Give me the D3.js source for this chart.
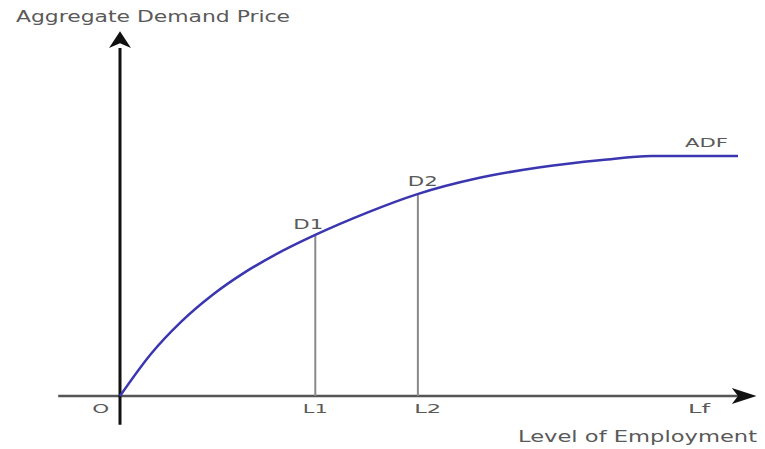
<!DOCTYPE html>
<html lang="en">
<head>
    <meta charset="UTF-8">
    <title>Aggregate Demand Function</title>
    <script src="https://d3js.org/d3.v7.min.js"></script>
    <style>
        body { margin: 0; background: #fff; }
        text { font-family: "DejaVu Sans", sans-serif; fill: #5a5a5a; }
    </style>
</head>
<body>
    <script>
        // curve (employment vs demand price, 0..100)
        const curveX = [0, 5, 10, 15, 20, 25, 31.5, 40, 48, 58, 68, 78, 86, 100];
        const curveY = [0, 17.5, 31.2, 42.2, 51.2, 58.7, 67, 76.4, 84, 90.8, 95.3, 98.3, 100, 100];

        // employment levels with their demand points
        const levelNames = ["L1", "L2"];
        const levelX = [31.6, 48.2];
        const pointNames = ["D1", "D2"];
        const pointY = [67.1, 84.1];

        // x axis tick labels
        const tickLabels = ["O", "L1", "L2", "Lf"];
        const tickX = [-3.1, 31.6, 49.8, 93.7];

        const width = 765, height = 449;

        const svg = d3.select("body").append("svg")
            .attr("width", width)
            .attr("height", height);

        const x = d3.scaleLinear().domain([0, 100]).range([120, 738]);
        const y = d3.scaleLinear().domain([0, 100]).range([396, 156]);

        // x axis with arrow
        svg.append("line")
            .attr("x1", x(-10)).attr("x2", x(101))
            .attr("y1", y(0)).attr("y2", y(0))
            .attr("stroke", "#555").attr("stroke-width", 2.5);
        svg.append("path")
            .attr("d", `M${x(103)},${y(0)} L${x(99)},${y(0) - 8} L${x(100)},${y(0)} L${x(99)},${y(0) + 8} Z`)
            .attr("fill", "#111");

        // y axis with arrow
        svg.append("line")
            .attr("x1", x(0)).attr("x2", x(0))
            .attr("y1", y(-12)).attr("y2", y(145))
            .attr("stroke", "#111").attr("stroke-width", 3);
        svg.append("path")
            .attr("d", `M${x(0)},${y(152)} L${x(0) - 11},${y(145)} L${x(0)},${y(147)} L${x(0) + 11},${y(145)} Z`)
            .attr("fill", "#111");

        // vertical drop lines
        svg.selectAll(".drop")
            .data(levelX)
            .enter().append("line")
            .attr("class", "drop")
            .attr("x1", d => x(d)).attr("x2", d => x(d))
            .attr("y1", (d, i) => y(pointY[i]))
            .attr("y2", y(0))
            .attr("stroke", "#8a8a8a").attr("stroke-width", 2);

        // ADF curve
        const line = d3.line()
            .x((d, i) => x(curveX[i]))
            .y(d => y(d))
            .curve(d3.curveMonotoneX);

        svg.append("path")
            .datum(curveY)
            .attr("d", line)
            .attr("fill", "none")
            .attr("stroke", "#3a36b0")
            .attr("stroke-width", 2.5);

        // tick labels
        const tickW = [17, 25, 27, 22];
        svg.selectAll(".tick-label")
            .data(tickLabels)
            .enter().append("text")
            .attr("class", "tick-label")
            .attr("x", (d, i) => x(tickX[i]) - tickW[i] / 2)
            .attr("y", 413)
            .attr("textLength", (d, i) => tickW[i])
            .attr("lengthAdjust", "spacingAndGlyphs")
            .style("font-size", "11.5px")
            .text(d => d);

        // D1 / D2 labels
        svg.selectAll(".point-label")
            .data(pointNames)
            .enter().append("text")
            .attr("class", "point-label")
            .attr("x", (d, i) => x(levelX[i]) - (i === 0 ? 22 : 10))
            .attr("y", (d, i) => y(pointY[i]) - (i === 0 ? 6 : 8))
            .attr("textLength", 30)
            .attr("lengthAdjust", "spacingAndGlyphs")
            .style("font-size", "14px")
            .text(d => d);

        svg.append("text")
            .attr("x", 685).attr("y", 147)
            .attr("textLength", 43)
            .attr("lengthAdjust", "spacingAndGlyphs")
            .style("font-size", "13px")
            .text("ADF");

        // axis titles
        svg.append("text")
            .attr("x", 16).attr("y", 22)
            .attr("textLength", 274)
            .attr("lengthAdjust", "spacingAndGlyphs")
            .style("font-size", "16px")
            .text("Aggregate Demand Price");

        svg.append("text")
            .attr("x", 518).attr("y", 442)
            .attr("textLength", 239)
            .attr("lengthAdjust", "spacingAndGlyphs")
            .style("font-size", "15px")
            .text("Level of Employment");
    </script>
</body>
</html>
